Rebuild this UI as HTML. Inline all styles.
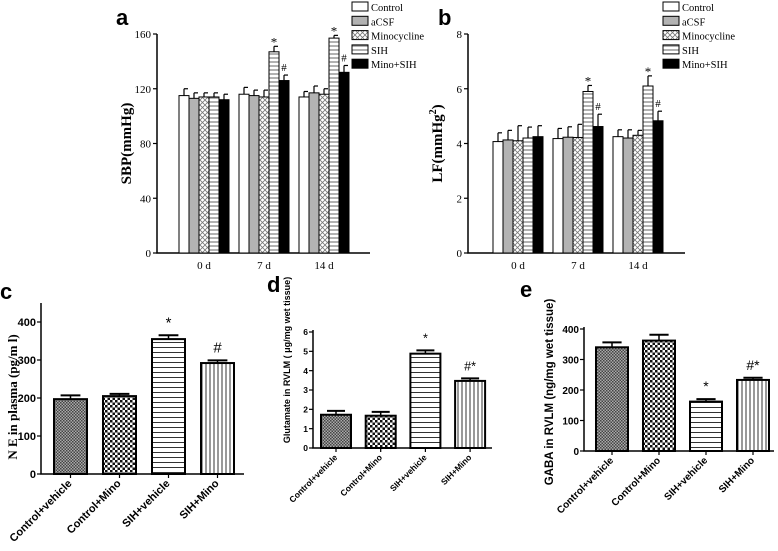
<!DOCTYPE html>
<html><head><meta charset="utf-8"><style>
html,body{margin:0;padding:0;background:#fff;}
svg{display:block;}
</style></head><body>
<svg id="fig" width="778" height="551" viewBox="0 0 778 551" xmlns="http://www.w3.org/2000/svg">
<defs>
<pattern id="pCross" width="5" height="5" patternUnits="userSpaceOnUse"><rect width="5" height="5" fill="#fff"/><path d="M0,0L5,5M5,0L0,5" stroke="#777" stroke-width="0.8"/></pattern>
<pattern id="pHoriz" width="4" height="4" patternUnits="userSpaceOnUse"><rect width="4" height="4" fill="#fff"/><path d="M0,2H4" stroke="#555" stroke-width="0.9"/></pattern>
<pattern id="pHoriz2" width="5" height="5" patternUnits="userSpaceOnUse"><rect width="5" height="5" fill="#fff"/><path d="M0,2.5H5" stroke="#333" stroke-width="1"/></pattern>
<pattern id="pVert" width="4" height="4" patternUnits="userSpaceOnUse"><rect width="4" height="4" fill="#fff"/><path d="M2,0V4" stroke="#333" stroke-width="1"/></pattern>
<pattern id="pFine" width="3" height="3" patternUnits="userSpaceOnUse"><rect width="3" height="3" fill="#aaa"/><rect width="1.5" height="1.5" fill="#444"/><rect x="1.5" y="1.5" width="1.5" height="1.5" fill="#444"/></pattern>
<pattern id="pCheck" width="5" height="5" patternUnits="userSpaceOnUse"><rect width="5" height="5" fill="#fff"/><rect width="2.5" height="2.5" fill="#111"/><rect x="2.5" y="2.5" width="2.5" height="2.5" fill="#111"/></pattern>
</defs>
</svg>
<script>
// ===== Panel a data =====
const aGroups = ["0 d", "7 d", "14 d"];
const aSeries = ["Control", "aCSF", "Minocycline", "SIH", "Mino+SIH"];
const aValues = [[115,113,114,114,112],[116,115,114,147,126],[114,117,116,157,132]];
const aErrors = [[5,4,3,3,4],[5,4,5,4,4],[4,5,4,2,5]];
const aMarks = [["","","","",""],["","","","*","#"],["","","","*","#"]];
const aTicks = [0,40,80,120,160];
// ===== Panel b data =====
const bGroups = ["0 d", "7 d", "14 d"];
const bValues = [[4.07,4.13,4.1,4.2,4.25],[4.18,4.23,4.22,5.9,4.62],[4.25,4.2,4.3,6.1,4.83]];
const bErrors = [[0.32,0.35,0.55,0.4,0.4],[0.37,0.38,0.48,0.22,0.45],[0.25,0.3,0.18,0.37,0.35]];
const bMarks = [["","","","",""],["","","","*","#"],["","","","*","#"]];
const bTicks = [0,2,4,6,8];
// ===== Bottom panels shared categories =====
const catLabels = ["Control+vehicle","Control+Mino","SIH+vehicle","SIH+Mino"];
// ===== Panel c =====
const cValues = [197,205,355,292];
const cErrors = [10,6,10,7];
const cMarks = ["","","*","#"];
const cTicks = [0,100,200,300,400];
// ===== Panel d =====
const dValues = [1.72,1.67,4.88,3.47];
const dErrors = [0.2,0.2,0.17,0.13];
const dMarks = ["","","*","#*"];
const dTicks = [0,1,2,3,4,5,6];
// ===== Panel e =====
const eValues = [340,362,162,233];
const eErrors = [16,19,8,7];
const eMarks = ["","","*","#*"];
const eTicks = [0,100,200,300,400];

const NS = "http://www.w3.org/2000/svg";
const svg = document.getElementById('fig');
function mk(tag, attrs, parent, txt){
  const e = document.createElementNS(NS, tag);
  for (const k in attrs) e.setAttribute(k, attrs[k]);
  if (txt !== undefined) e.textContent = txt;
  (parent || svg).appendChild(e);
  return e;
}
const groupFills = ["#fff","#b3b3b3","url(#pCross)","url(#pHoriz)","#000"];
const catFills = ["url(#pFine)","url(#pCheck)","url(#pHoriz2)","url(#pVert)"];

function grouped(cfg){
  const g = mk('g', {});
  
  
  const yS = v => cfg.y0 - (v - cfg.min) / (cfg.max - cfg.min) * (cfg.y0 - cfg.yTop);
  const serif = '"Liberation Serif", serif';
  const ax = mk('path', {d:`M${cfg.x0},${cfg.yTop}V${cfg.y0}H${cfg.xEnd}`, stroke:'#000', 'stroke-width':1.5, fill:'none'}, g);
  
  
  cfg.ticks.forEach(t => {
    const y = yS(t);
    mk('line', {x1:cfg.x0-4, x2:cfg.x0, y1:y, y2:y, stroke:'#000', 'stroke-width':1.2}, g);
    const tl = mk('text', {x:cfg.x0-6, y:y+4, 'text-anchor':'end', 'font-family':serif, 'font-size':11}, g, String(t));
    
    
  });
  cfg.groups.forEach((gl, gi) => {
    const gx = cfg.gStart + gi * cfg.gStep;
    cfg.values[gi].forEach((v, si) => {
      const x = gx + si * cfg.bw;
      const top = yS(v), et = yS(v + cfg.errors[gi][si]);
      mk('line', {x1:x+cfg.bw/2, x2:x+cfg.bw/2, y1:top, y2:et, stroke:'#000', 'stroke-width':1.2}, g);
      mk('line', {x1:x+cfg.bw/2, x2:x+cfg.bw-1, y1:et, y2:et, stroke:'#000', 'stroke-width':1.2}, g);
      const r = mk('rect', {x:x, y:top, width:cfg.bw, height:cfg.y0-top, fill:groupFills[si], stroke:'#000', 'stroke-width':1}, g);
      
      
      const m = cfg.marks[gi][si];
      if (m) {
        const t = mk('text', {x:x+cfg.bw/2, y:et-4+(m==='*'?4:0), 'text-anchor':'middle', 'font-family':serif, 'font-size':m==='*'?13:11}, g, m);
        
        
      }
    });
    const xl = mk('text', {x:gx + cfg.bw*2.5, y:cfg.y0+16, 'text-anchor':'middle', 'font-family':serif, 'font-size':11}, g, gl);
    
    
  });
  const yt = mk('text', {transform:`translate(${cfg.titleX},${(cfg.y0+cfg.yTop)/2}) rotate(-90)`, 'text-anchor':'middle', 'font-family':serif, 'font-size':15, 'font-weight':'bold'}, g);
  
  
  yt.innerHTML = cfg.title;
  const pl = mk('text', {x:cfg.letterX, y:25, 'font-family':'"Liberation Sans", sans-serif', 'font-size':22, 'font-weight':'bold'}, g, cfg.letter);
  
  
  const lg = mk('g', {}, g);
  
  
  aSeries.forEach((s, i) => {
    const y = cfg.legY + i * 14.3;
    const sw = mk('rect', {x:cfg.legX, y:y, width:16, height:9, fill:groupFills[i], stroke:'#000', 'stroke-width':1}, lg);
    
    
    const lt = mk('text', {x:cfg.legX+19, y:y+9, 'font-family':serif, 'font-size':10.5}, lg, s);
    
    
  });
}

function cats(cfg){
  const g = mk('g', {});
  
  
  const sans = '"Liberation Sans", sans-serif';
  const yS = v => cfg.y0 - v / cfg.max * (cfg.y0 - cfg.yMaxPx);
  const ax = mk('path', {d:`M${cfg.x0},${cfg.yTop}V${cfg.y0}H${cfg.xEnd}`, stroke:'#000', 'stroke-width':1.5, fill:'none'}, g);
  
  
  cfg.ticks.forEach(t => {
    const y = yS(t);
    mk('line', {x1:cfg.x0-4, x2:cfg.x0, y1:y, y2:y, stroke:'#000', 'stroke-width':1.2}, g);
    const tl = mk('text', {x:cfg.x0-5, y:y+cfg.fs*0.38, 'text-anchor':'end', 'font-family':sans, 'font-weight':'bold', 'font-size':cfg.fs}, g, String(t));
    
    
  });
  cfg.values.forEach((v, i) => {
    const x = cfg.bStart + i * cfg.step;
    const cx = x + cfg.bw/2;
    const top = yS(v), et = yS(v + cfg.errors[i]);
    mk('line', {x1:cx, x2:cx, y1:top, y2:et, stroke:'#000', 'stroke-width':1.5}, g);
    mk('line', {x1:cx-cfg.bw*0.3, x2:cx+cfg.bw*0.3, y1:et, y2:et, stroke:'#000', 'stroke-width':2}, g);
    const r = mk('rect', {x:x, y:top, width:cfg.bw, height:cfg.y0-top, fill:catFills[i], stroke:'#000', 'stroke-width':2}, g);
    
    
    mk('line', {x1:cx, x2:cx, y1:cfg.y0, y2:cfg.y0+4, stroke:'#000', 'stroke-width':1.2}, g);
    if (cfg.marks[i]) {
      const t = mk('text', {x:cx, y:et-8, 'text-anchor':'middle', 'font-family':sans, 'font-size':cfg.fs+4}, g, cfg.marks[i]);
      
      
    }
    const xl = mk('text', {transform:`translate(${cx+2},${cfg.y0+10}) rotate(-45)`, 'text-anchor':'end', 'font-family':sans, 'font-weight':'bold', 'font-size':cfg.fs}, g, catLabels[i]);
    
    
  });
  const yt = mk('text', {transform:`translate(${cfg.titleX},${cfg.titleY}) rotate(-90)`, 'text-anchor':'middle', 'font-family':cfg.titleFont, 'font-weight':'bold', 'font-size':cfg.tfs}, g, cfg.title);
  
  
  const pl = mk('text', {x:cfg.letterX, y:cfg.letterY, 'font-family':sans, 'font-size':22, 'font-weight':'bold'}, g, cfg.letter);
  
  
}

grouped({name:'panel-a-sbp', x0:157, y0:253, yTop:34, xEnd:370, min:0, max:160, ticks:aTicks,
  groups:aGroups, values:aValues, errors:aErrors, marks:aMarks, gStart:179, gStep:60, bw:10,
  title:'SBP(mmHg)', titleX:131, letter:'a', letterX:116, legX:352, legY:2});
grouped({name:'panel-b-lf', x0:468, y0:253, yTop:34, xEnd:685, min:0, max:8, ticks:bTicks,
  groups:bGroups, values:bValues, errors:bErrors, marks:bMarks, gStart:493, gStep:60, bw:10,
  title:'LF(mmHg<tspan dy="-6" font-size="10">2</tspan><tspan dy="6">)</tspan>', titleX:442, letter:'b', letterX:438, legX:663, legY:2});
cats({name:'panel-c-ne', x0:41, y0:474, yTop:303, yMaxPx:322, xEnd:244, max:400, ticks:cTicks,
  values:cValues, errors:cErrors, marks:cMarks, bStart:54, step:49, bw:33, fs:11,
  title:'N E in plasma (pg/m l)', titleX:17, titleY:397, titleFont:'"Liberation Serif", serif', tfs:13,
  letter:'c', letterX:0, letterY:299});
cats({name:'panel-d-glutamate', x0:313, y0:448, yTop:330, yMaxPx:332, xEnd:492, max:6, ticks:dTicks,
  values:dValues, errors:dErrors, marks:dMarks, bStart:321, step:44.7, bw:30, fs:8.5,
  title:'Glutamate in RVLM ( μg/mg wet tissue)', titleX:290, titleY:360, titleFont:'"Liberation Sans", sans-serif', tfs:9,
  letter:'d', letterX:267, letterY:292});
cats({name:'panel-e-gaba', x0:584, y0:451, yTop:327, yMaxPx:329, xEnd:774, max:400, ticks:eTicks,
  values:eValues, errors:eErrors, marks:eMarks, bStart:596, step:47, bw:32, fs:10,
  title:'GABA in RVLM (ng/mg wet tissue)', titleX:553, titleY:392, titleFont:'"Liberation Sans", sans-serif', tfs:11.5,
  letter:'e', letterX:520, letterY:297});
</script>
</body></html>
